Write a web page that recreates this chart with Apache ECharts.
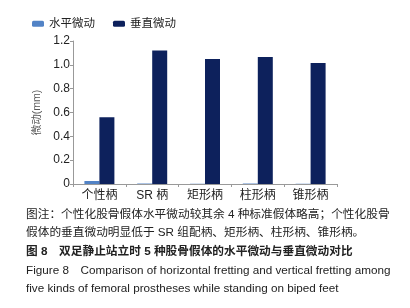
<!DOCTYPE html>
<html>
<head>
<meta charset="utf-8">
<script src="https://cdn.jsdelivr.net/npm/echarts@6/dist/echarts.min.js"></script>
<style>
 html,body{margin:0;padding:0;background:#fff;}
 #main{width:410px;height:308px;}
</style>
</head>
<body>
<div id="main"></div>
<script>
// 数据
var categories = ['个性柄', 'SR 柄', '矩形柄', '柱形柄', '锥形柄'];
var horizontal = [0.025, 0.004, 0.002, 0.004, 0.002];
var vertical = [0.56, 1.12, 1.05, 1.065, 1.015];
var yTicks = [0, 0.2, 0.4, 0.6, 0.8, 1.0, 1.2];

var captionLines = [
	'图注：个性化股骨假体水平微动较其余 4 种标准假体略高；个性化股骨',
	'假体的垂直微动明显低于 SR 组配柄、矩形柄、柱形柄、锥形柄。',
	'图 8　双足静止站立时 5 种股骨假体的水平微动与垂直微动对比',
	'Figure 8　Comparison of horizontal fretting and vertical fretting among',
	'five kinds of femoral prostheses while standing on biped feet'
];

var font = 'Liberation Sans, Arial, "Noto Sans CJK SC", sans-serif';
var myChart = echarts.init(document.getElementById('main'));

var captionY = [209, 227, 246, 265, 283];
var graphics = [];
for (var i = 0; i < captionLines.length; i++) {
	graphics.push({
		type: 'text',
		left: 26,
		top: captionY[i],
		style: {
			text: captionLines[i],
			fill: '#222',
			font: (i == 2 ? 'bold ' : '') + '11.7px ' + font
		}
	});
}

option = {
	animation: false,
	legend: {
		left: 27,
		top: 13,
		itemWidth: 12,
		itemHeight: 6,
		itemGap: 18,
		textStyle: {fontSize: 11.5, color: '#222', fontFamily: font},
		data: ['水平微动', '垂直微动']
	},
	grid: {left: 73, right: 73, top: 41, bottom: 124},
	xAxis: {
		type: 'category',
		data: categories,
		axisLine: {lineStyle: {color: '#999'}},
		axisTick: {show: true, length: 3, lineStyle: {color: '#999'}},
		axisLabel: {fontSize: 12, color: '#222', fontFamily: font, margin: 6}
	},
	yAxis: {
		type: 'value',
		min: 0,
		max: 1.2,
		interval: 0.2,
		name: '微动(mm)',
		nameLocation: 'middle',
		nameGap: 27,
		nameTextStyle: {fontSize: 10.5, color: '#555', fontFamily: font},
		splitLine: {show: false},
		axisLine: {show: true, lineStyle: {color: '#999'}},
		axisTick: {show: true, length: 3, lineStyle: {color: '#999'}},
		axisLabel: {
			fontSize: 12, color: '#222', fontFamily: font, margin: 3,
			formatter: function (v) { return v == 0 ? '0' : v.toFixed(1); }
		}
	},
	series: [
		{
			name: '水平微动',
			type: 'bar',
			data: horizontal,
			barWidth: 15,
			barGap: '0%',
			itemStyle: {color: '#5283c6'}
		},
		{
			name: '垂直微动',
			type: 'bar',
			data: vertical,
			barWidth: 15,
			itemStyle: {color: '#0d215c'}
		}
	],
	graphic: graphics
};
myChart.setOption(option);
window.onresize = myChart.resize;
</script>
</body>
</html>
